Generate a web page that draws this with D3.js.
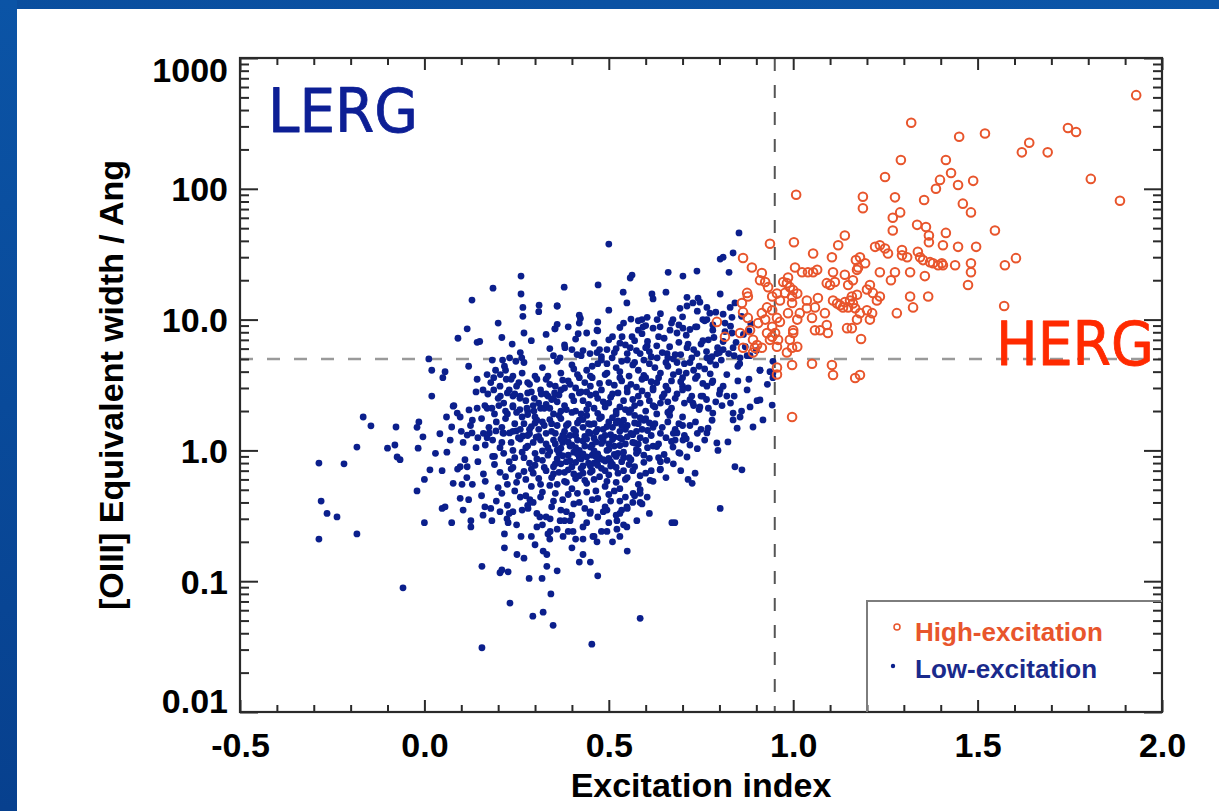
<!DOCTYPE html>
<html>
<head>
<meta charset="utf-8">
<script src="https://cdn.jsdelivr.net/npm/d3@7"></script>
<style>
  html, body { margin: 0; padding: 0; background: #ffffff; }
  svg { display: block; }
</style>
</head>
<body>
<svg id="chart" width="1219" height="811"></svg>
<script>
// ---- axis ticks and labels ----
const xTicks = [-0.5, 0, 0.5, 1, 1.5, 2];
const xTickLabels = ["-0.5", "0.0", "0.5", "1.0", "1.5", "2.0"];
const yTicks = [0.01, 0.1, 1, 10, 100, 1000];
const yTickLabels = ["0.01", "0.1", "1.0", "10.0", "100", "1000"];
const xTitle = "Excitation index";
const yTitle = "[OIII] Equivalent width / Ang";
const legendLabels = ["High-excitation", "Low-excitation"];
const regionLabels = ["LERG", "HERG"];

// dividing lines between the two classes
const eiDivide = 0.95;
const ewDivide = 5;

// ---- high-excitation galaxies: [excitation index, EW [OIII] (Ang)] ----
const highExcitation = [
  [1.93,520],[1.32,320],[1.45,250],[1.52,265],[1.62,190],[1.64,225],[1.69,190],[1.745,292],[1.767,272],[1.807,119],
  [1.886,81],[1.414,166],[1.428,132],[1.398,117],[1.447,107],[1.488,115],[1.46,77],[1.482,66],[1.547,48],[1.414,46],
  [1.406,37],[1.447,36],[1.496,36],[1.406,26],[1.439,26],[1.482,27],[1.482,23],[1.474,18.4],[1.574,26],[1.604,29.5],
  [1.572,12.7],[1.292,166],[1.249,123],[1.387,100],[1.008,90],[1.189,87],[1.189,71],[1.276,86],[1.355,82],[1.29,66],
  [1.27,60],[1.336,53],[1.36,51],[1.368,44],[1.368,39],[1.27,48],[1.14,44],[1.122,37],[1.054,32],[0.937,38],
  [1.002,39],[1.105,30],[1.17,28.5],[1.181,30],[1.195,27],[1.176,25],[1.222,36],[1.235,37],[1.249,35],[1.257,32],
  [1.295,34],[1.309,30],[1.295,31],[1.338,33],[1.344,30],[1.352,28.5],[1.371,27.5],[1.379,27],[1.393,26],[1.403,27],
  [1.317,23],[1.357,21.5],[1.276,23],[1.265,20],[1.235,23],[1.216,16],[1.2,17],[1.208,18.4],[1.227,14],[1.235,15],
  [1.173,24],[1.162,20],[1.149,18.4],[1.108,23],[1.113,19.4],[1.1,18.4],[1.091,19],[1.14,22],[1.065,24],[1.054,23],
  [1.04,23],[1.024,23],[1.005,25],[1.067,14.6],[1.108,14],[1.119,13.3],[1.127,12.9],[1.135,12.4],[1.149,12.4],[1.14,13.6],
  [1.154,14],[1.162,13.3],[1.168,12.2],[1.159,15],[1.173,15.5],[1.181,11.2],[1.2,11.8],[1.214,11.2],[1.281,11.2],[1.317,15],
  [1.325,12.4],[1.366,15],[1.184,7.1],[1.159,8.6],[1.146,8.6],[1.173,10],[1.208,10],[1.086,11.2],[1.091,9.1],[1.094,7.9],
  [1.059,12.4],[1.051,10.3],[1.059,8.3],[1.073,8.3],[1.037,14],[1.037,12.2],[1.018,11.2],[0.997,13.4],[0.986,11.2],[1.011,10],
  [1.0,8.3],[0.983,19],[0.991,17.7],[1.0,16.8],[0.997,15],[0.978,16],[1.011,15.8],[0.973,19.4],[0.986,21],[0.956,15.8],
  [0.964,14],[0.943,15],[0.943,11.8],[0.956,10.3],[0.964,9.6],[0.943,8.8],[0.951,7.9],[0.937,7.0],[0.959,7.0],[0.956,6.2],
  [0.991,7.0],[1.0,7.9],[1.011,6.2],[0.997,6.1],[0.983,5.6],[0.997,4.5],[1.051,4.6],[1.105,4.5],[1.108,3.77],[1.168,3.58],
  [1.181,3.77],[0.956,4.3],[0.956,3.8],[0.997,1.8],[0.864,29.6],[0.888,25],[0.875,16],[0.877,15],[0.861,13.4],[0.864,11.4],
  [0.877,10.3],[0.856,7.9],[0.883,8.3],[0.891,7.0],[0.902,6.4],[0.896,6.1],[0.864,6.1],[0.891,5.6],[0.793,9.6],[0.815,7.4],
  [0.915,22.7],[0.91,20],[0.924,19.4],[0.932,17.7],[0.929,12.4],[0.915,11.2],[0.924,10],[0.905,9.4],[0.929,7.9],[0.943,7.4],
  [0.915,6.1]
];

// ---- low-excitation galaxies: [excitation index, EW [OIII] (Ang)] ----
const lowExcitation = [
  // outskirts
  [0.262,21.5],[0.186,17.4],[0.262,15.7],[0.129,14.1],[0.267,12.4],[0.267,10.6],[0.311,12.9],[0.36,12.7],[0.2,9.4],[0.116,8.5],
  [0.091,7.2],[0.143,6.7],[0.354,8.5],[0.238,6.5],[0.012,5.0],[0.02,4.1],[0.056,4.0],[0.217,4.4],[0.143,3.5],[0.078,2.18],
  [0.089,1.93],[0.097,1.8],[0.121,2.04],[-0.166,1.8],[-0.145,1.54],[-0.077,1.51],[-0.015,1.65],[-0.004,1.27],[0.042,1.34],[0.074,1.51],
  [0.116,1.31],[0.129,1.36],[-0.183,1.06],[-0.1,1.04],[-0.017,1.04],[0.061,0.97],[-0.074,0.89],[-0.066,0.85],[-0.286,0.8],[-0.218,0.79],
  [0.015,0.71],[0.048,0.7],[0.097,0.75],[0.116,0.75],[-0.02,0.49],[0.078,0.56],[0.102,0.55],[-0.28,0.41],[-0.264,0.33],[-0.237,0.31],
  [-0.286,0.21],[-0.183,0.23],[0.0,0.28],[0.048,0.36],[0.056,0.37],[0.097,0.43],[0.105,0.35],[0.074,0.28],[0.126,0.29],[0.126,0.26],
  [-0.058,0.089],[0.156,0.13],[0.205,0.116],[0.21,0.122],[0.227,0.118],[0.217,0.18],[0.251,0.16],[0.217,0.23],[0.262,0.22],[0.284,0.105],
  [0.319,0.105],[0.332,0.16],[0.332,0.13],[0.343,0.08],[0.232,0.068],[0.294,0.054],[0.322,0.058],[0.349,0.046],[0.156,0.031],[0.335,0.23],
  [0.305,0.26],[0.313,0.31],[0.341,0.3],[0.164,0.37],[0.159,0.32],[0.183,0.29],[0.205,0.34],[0.224,0.3],[0.227,0.28],[0.24,0.34],
  [0.281,0.36],[0.286,0.42],[0.454,0.033],[0.585,0.052],
  [0.853,46],[0.5,37.8],[0.837,32.3],[0.81,30],[0.802,29],[0.826,23],[0.563,21.9],[0.558,20.8],[0.661,23],[0.701,21.5],
  [0.739,23.5],[0.379,17.7],[0.471,18.4],[0.539,16.2],[0.549,13.4],[0.617,15.7],[0.62,14.4],[0.655,16.2],[0.712,14.8],[0.742,14.6],
  [0.802,15.7],[0.36,12.7],[0.693,12.2],[0.712,12.7],[0.728,13.4],[0.747,13.6],[0.766,12.4],[0.774,11.2],[0.766,10],[0.834,10.4],
  [0.829,12.4],[0.842,13.4],[0.423,10.2],[0.42,9.4],[0.417,7.8],[0.354,8.5],[0.468,8.3],[0.59,10],[0.604,10.4],[0.593,8.8],
  [0.58,8.3],[0.631,10],[0.639,8.8],[0.674,10],[0.666,8.3],[0.701,8.6],[0.739,8.8],[0.755,10],[0.782,9.1],[0.782,8.3],
  [0.815,9.4],[0.834,7.9],[0.536,7.4],[0.53,6.6],[0.563,7.4],[0.558,6.1],[0.381,6.1],[0.4,5.9],[0.414,5.4],[0.368,5.1],
  [0.449,5.5],[0.468,5.6],[0.495,5.9],[0.509,5.1],[0.585,5.5],[0.604,6.3],[0.631,5.1],[0.658,5.5],[0.685,4.7],[0.712,6.1],
  [0.739,5.5],[0.766,5.1],[0.793,5.5],[0.81,5.9],[0.837,6.1],[0.856,5.1],[0.883,5.3],[0.91,4.1],[0.937,4.0],[0.945,4.8],
  [0.945,3.9],[0.945,3.6],[0.91,2.43],[0.943,2.22],[0.918,1.71],[0.891,1.51],[0.848,1.48],[0.837,1.93],[0.823,1.16],[0.796,1.0],
  [0.793,1.14],[0.842,0.75],[0.861,0.71],[0.802,0.36],[0.671,0.28],[0.679,0.28],[0.726,0.56],[0.734,0.67],[0.769,1.48],[0.766,1.36],
  [0.728,2.3],[0.747,2.15],[0.782,1.93],[0.807,2.2],[0.837,1.71],[0.856,1.8],[0.883,2.15],[0.875,2.9],[0.902,2.4],[0.82,2.6],
  [0.802,2.9],[0.782,3.4],[0.766,3.1],[0.755,2.6],[0.72,2.44],[0.685,1.36],[0.701,1.2],[0.674,1.06],[0.693,0.95],[0.658,0.84],
  [0.712,0.89],[0.639,0.71],[0.612,0.59],[0.585,0.5],[0.566,0.47],[0.604,0.44],[0.549,0.37],[0.585,0.4],[0.576,0.29],[0.53,0.33],
  [0.549,0.26],[0.522,0.25],[0.495,0.24],[0.457,0.22],[0.43,0.21],[0.468,0.2],[0.403,0.24],[0.376,0.22],[0.341,0.24],[0.395,0.29],
  [0.368,0.29],[0.449,0.33],[0.495,0.35],[0.522,0.29],[0.322,0.17],
  // left part of the main cloud
  [0.184,4.9],[0.193,4.1],[0.212,4.9],[0.231,5.1],[0.248,4.8],[0.264,5.1],[0.17,3.8],[0.188,3.6],[0.206,3.8],[0.222,3.5],
  [0.24,3.7],[0.256,3.3],[0.159,2.9],[0.172,2.7],[0.188,2.9],[0.206,2.6],[0.225,2.75],[0.24,2.6],[0.259,2.5],[0.28,2.75],
  [0.298,2.5],[0.317,2.7],[0.335,2.6],[0.353,2.75],[0.143,2.1],[0.164,2.2],[0.183,2.1],[0.202,2.2],[0.22,2.0],[0.24,2.15],
  [0.259,2.05],[0.278,2.1],[0.297,2.0],[0.315,2.1],[0.176,1.36],[0.194,1.41],[0.213,1.36],[0.231,1.36],[0.249,1.41],[0.267,1.29],
  [0.285,1.34],[0.303,1.26],
  // main cloud
  [0.31,11.5],[0.36,9.2],[0.42,10.8],[0.47,9.6],[0.5,11.8],[0.53,8.7],[0.56,10.1],[0.6,9.0],[0.64,11.1],[0.67,9.4],
  [0.7,10.5],[0.72,8.4],[0.76,9.8],[0.79,11.4],[0.83,8.9],[0.86,10.6],[0.88,8.2],
  [0.15,6.8],[0.21,7.3],[0.26,5.6],[0.29,6.9],[0.33,7.7],[0.35,5.3],[0.38,6.4],[0.41,7.1],[0.43,5.8],[0.46,6.6],
  [0.48,5.2],[0.51,7.4],[0.52,6.0],[0.55,5.5],[0.57,6.9],[0.59,7.8],[0.61,5.7],[0.63,6.3],[0.65,7.2],[0.68,5.4],
  [0.69,6.7],[0.71,7.6],[0.73,5.9],[0.75,6.5],[0.77,7.0],[0.8,5.6],[0.81,6.8],[0.84,5.3],[0.87,6.2],[0.9,5.8],
  [0.44,7.9],[0.6,6.1],[0.66,5.1],[0.78,5.2],
  [0.405,4.2],[0.425,5.3],[0.455,4.4],[0.475,5.9],[0.495,4.6],[0.515,5.6],[0.535,4.8],[0.545,6.4],[0.565,4.5],[0.575,5.8],
  [0.595,4.9],[0.605,6.8],[0.615,5.2],[0.625,4.3],[0.635,7.4],[0.645,5.6],[0.655,4.7],[0.665,6.2],[0.675,5.0],[0.685,7.9],
  [0.695,5.4],[0.705,4.6],[0.715,6.5],[0.725,5.1],[0.735,8.8],[0.745,4.4],[0.755,6.9],[0.765,5.7],[0.775,4.8],[0.785,7.3],
  [0.795,6.1],[0.805,4.9],[0.815,8.1],[0.825,5.5],[0.845,6.7],[0.855,4.6],[0.865,7.7],[0.875,5.3],[0.885,9.3],[0.62,8.6],
  [0.58,9.8],[0.69,9.1],[0.74,11.6],[0.81,11.0],[0.54,9.4],[0.5,7.0],[0.47,8.2],[0.39,8.8],[0.34,6.0],[0.27,7.9],
  [0.05,3.6],[0.12,4.4],[0.18,3.3],[0.22,4.1],[0.25,3.1],[0.27,4.7],[0.3,3.7],[0.32,4.3],[0.34,3.2],[0.36,4.8],
  [0.37,3.9],[0.39,3.4],[0.4,4.5],[0.42,3.6],[0.44,4.1],[0.45,3.1],[0.47,4.6],[0.49,3.8],[0.5,3.3],[0.52,4.3],
  [0.53,3.6],[0.55,4.9],[0.56,3.2],[0.58,4.1],[0.59,3.5],[0.61,4.6],[0.62,3.0],[0.64,3.9],[0.66,4.4],[0.67,3.4],
  [0.69,4.0],[0.7,3.1],[0.72,4.7],[0.74,3.7],[0.76,4.2],[0.78,3.3],[0.79,4.5],[0.82,3.8],[0.85,4.4],[0.88,3.5],
  [0.91,4.1],[0.93,3.2],[0.48,4.9],[0.57,4.7],[0.63,3.3],[0.71,3.9],[0.41,3.0],[0.53,4.0],
  [0.205,3.1],[0.215,2.3],[0.235,3.5],[0.245,2.7],[0.265,3.9],[0.275,2.4],[0.285,3.2],[0.295,2.2],[0.305,3.5],[0.315,2.9],
  [0.325,2.1],[0.335,3.7],[0.345,2.45],[0.355,3.1],[0.365,2.65],[0.375,3.45],[0.385,2.05],[0.395,3.2],[0.405,2.4],[0.415,3.8],
  [0.425,2.8],[0.435,3.3],[0.445,2.25],[0.455,3.6],[0.465,2.7],[0.475,3.25],[0.485,2.35],[0.495,3.9],[0.505,2.55],[0.515,3.15],
  [0.525,2.75],[0.535,3.4],[0.545,2.05],[0.555,3.7],[0.565,2.45],[0.575,3.05],[0.585,2.3],[0.595,3.75],[0.605,2.65],[0.615,3.35],
  [0.625,2.15],[0.635,3.6],[0.645,2.55],[0.655,3.1],[0.665,2.0],[0.675,3.8],[0.685,2.7],[0.695,3.35],[0.705,2.3],[0.715,3.0],
  [0.725,2.6],[0.735,3.55],[0.745,2.05],[0.755,3.25],[0.765,2.45],[0.775,3.85],[0.79,2.35],[0.81,3.1],[0.84,2.6],[0.85,3.4],
  [0.02,2.6],[0.08,2.2],[0.14,2.8],[0.17,2.1],[0.2,2.5],[0.23,2.9],[0.24,2.2],[0.26,2.6],[0.28,2.0],[0.29,2.8],
  [0.31,2.3],[0.33,2.7],[0.34,2.1],[0.35,2.5],[0.37,2.9],[0.38,2.2],[0.4,2.6],[0.41,2.0],[0.43,2.4],[0.44,2.8],
  [0.46,2.1],[0.47,2.5],[0.48,2.9],[0.5,2.3],[0.51,2.7],[0.52,2.0],[0.54,2.4],[0.55,2.8],[0.57,2.2],[0.58,2.6],
  [0.6,2.0],[0.61,2.4],[0.62,2.9],[0.64,2.3],[0.65,2.7],[0.67,2.1],[0.68,2.5],[0.7,2.9],[0.73,2.2],[0.75,2.6],
  [0.77,2.1],[0.8,2.7],[0.83,2.3],[0.86,2.0],[0.36,2.35],[0.45,2.65],[0.53,2.15],[0.59,2.85],[0.66,2.35],[0.42,2.75],
  [-0.02,1.5],[0.06,1.8],[0.1,1.4],[0.13,1.7],[0.16,1.35],[0.19,1.9],[0.21,1.5],[0.22,1.75],[0.24,1.4],[0.25,1.95],
  [0.27,1.6],[0.28,1.3],[0.3,1.8],[0.31,1.45],[0.32,1.65],[0.33,1.35],[0.35,1.9],[0.36,1.55],[0.37,1.75],[0.38,1.4],
  [0.39,1.6],[0.4,1.95],[0.41,1.3],[0.42,1.7],[0.43,1.5],[0.44,1.85],[0.45,1.35],[0.46,1.6],[0.47,1.45],[0.48,1.8],
  [0.49,1.3],[0.5,1.65],[0.51,1.5],[0.52,1.9],[0.53,1.4],[0.54,1.7],[0.55,1.55],[0.56,1.35],[0.57,1.85],[0.58,1.6],
  [0.59,1.45],[0.6,1.75],[0.62,1.5],[0.63,1.9],[0.64,1.35],[0.66,1.65],[0.68,1.45],[0.7,1.8],[0.72,1.55],[0.74,1.35],
  [0.78,1.7],[0.34,1.72],[0.45,1.58],[0.51,1.78],[0.29,1.52],[0.47,1.92],
  [0.105,1.15],[0.125,1.55],[0.145,1.25],[0.155,1.75],[0.165,1.1],[0.175,1.5],[0.185,1.2],[0.195,1.65],[0.205,1.05],[0.215,1.35],
  [0.225,1.9],[0.235,1.15],[0.245,1.6],[0.255,1.25],[0.265,1.8],[0.275,1.05],[0.285,1.45],[0.295,1.15],[0.305,1.7],[0.315,1.2],
  [0.325,1.55],[0.335,1.05],[0.345,1.4],[0.355,1.12],[0.365,1.85],[0.375,1.3],[0.385,1.55],[0.395,1.08],[0.405,1.45],[0.415,1.2],
  [0.425,1.9],[0.435,1.28],[0.445,1.6],[0.455,1.1],[0.465,1.38],[0.475,1.75],[0.485,1.18],[0.495,1.52],[0.505,1.32],[0.515,1.08],
  [0.525,1.68],[0.535,1.22],[0.545,1.45],[0.555,1.95],[0.565,1.15],[0.575,1.4],[0.585,1.25],[0.595,1.7],[0.605,1.05],[0.615,1.3],
  [0.625,1.6],[0.635,1.12],[0.645,1.5],[0.655,1.25],[0.665,1.85],[0.675,1.35],[0.69,1.6],[0.705,1.3],[0.72,1.1],[0.735,1.65],
  [0.75,1.45],[0.76,1.2],
  [0.365,0.95],[0.375,1.15],[0.385,0.82],[0.395,1.3],[0.405,0.97],[0.415,1.62],[0.425,0.86],[0.435,1.08],[0.445,1.38],[0.455,0.92],
  [0.465,1.16],[0.475,0.88],[0.485,1.45],[0.495,1.0],[0.505,0.82],[0.515,1.26],[0.525,0.95],[0.535,1.55],[0.545,1.12],[0.555,0.78],
  [0.565,1.32],[0.575,1.02],[0.585,1.78],[0.595,0.92],[0.605,1.42],[0.4,0.75],[0.43,0.67],[0.46,0.8],[0.49,0.7],[0.52,0.74],
  [0.38,0.68],[0.355,1.35],[0.345,1.6],[0.37,2.0],[0.44,2.05],[0.49,2.15],[0.56,2.05],[0.62,2.2],[0.66,1.95],[0.33,2.25],
  [0.3,1.62],[0.26,1.45],[0.28,1.88],[0.32,0.99],[0.29,0.72],[0.35,0.75],[0.62,1.08],[0.64,0.82],[0.68,1.2],[0.7,1.55],
  [0.66,2.9],[0.7,3.6],[0.73,4.1],[0.6,3.6],[0.55,3.0],[0.45,3.7],[0.38,3.0],[0.33,3.5],[0.28,3.3],[0.5,1.12],
  [0.41,1.4],[0.48,1.25],[0.54,0.88],[0.58,1.12],[0.45,0.76],[0.43,1.72],[0.37,1.22],[0.52,1.62],[0.57,1.62],[0.61,1.62],
  [-0.08,1.1],[0.03,0.95],[0.07,1.2],[0.11,0.85],[0.14,1.05],[0.17,1.25],[0.19,0.9],[0.21,1.15],[0.23,0.82],[0.24,1.0],
  [0.26,1.22],[0.27,0.88],[0.28,1.08],[0.3,0.95],[0.31,1.28],[0.32,0.84],[0.33,1.12],[0.34,0.98],[0.35,1.2],[0.36,0.86],
  [0.37,1.04],[0.38,1.26],[0.39,0.92],[0.4,1.1],[0.41,0.81],[0.42,1.0],[0.43,1.18],[0.44,0.89],[0.45,1.06],[0.46,1.24],
  [0.47,0.94],[0.48,1.13],[0.49,0.83],[0.5,1.02],[0.51,1.21],[0.52,0.9],[0.53,1.09],[0.54,0.97],[0.55,1.27],[0.56,0.85],
  [0.57,1.14],[0.58,0.99],[0.6,1.19],[0.61,0.87],[0.63,1.07],[0.65,0.93],[0.67,1.17],[0.69,0.96],[0.71,1.23],[0.74,1.03],
  [0.39,1.16],[0.44,1.22],[0.47,0.84],[0.36,1.01],[0.42,0.88],[0.5,0.87],[0.53,1.25],[0.41,1.05],[0.46,0.99],[0.43,0.94],
  [0.0,0.6],[0.09,0.72],[0.13,0.55],[0.16,0.66],[0.19,0.78],[0.2,0.52],[0.22,0.63],[0.24,0.74],[0.25,0.57],[0.27,0.69],
  [0.29,0.53],[0.3,0.77],[0.31,0.61],[0.33,0.7],[0.34,0.54],[0.35,0.66],[0.37,0.79],[0.38,0.58],[0.39,0.71],[0.4,0.51],
  [0.42,0.64],[0.43,0.76],[0.44,0.56],[0.45,0.68],[0.46,0.6],[0.48,0.73],[0.49,0.53],[0.5,0.65],[0.51,0.78],[0.52,0.57],
  [0.54,0.7],[0.55,0.62],[0.57,0.75],[0.58,0.55],[0.6,0.67],[0.62,0.58],[0.64,0.72],[0.41,0.61],[0.47,0.77],[0.36,0.55],
  [0.53,0.51],
  [0.115,0.62],[0.145,0.82],[0.165,0.58],[0.185,0.9],[0.205,0.68],[0.215,0.95],[0.225,0.55],[0.235,0.72],[0.245,0.88],[0.255,0.64],
  [0.265,0.97],[0.275,0.6],[0.285,0.8],[0.295,0.67],[0.305,0.86],[0.315,0.55],[0.325,0.74],[0.335,0.92],[0.345,0.62],[0.355,0.79],
  [0.365,0.68],[0.375,0.91],[0.385,0.57],[0.395,0.83],[0.405,0.66],[0.415,0.94],[0.425,0.73],[0.435,0.59],[0.445,0.8],[0.455,0.7],
  [0.465,0.9],[0.475,0.63],[0.485,0.85],[0.495,0.58],[0.505,0.76],[0.515,0.93],[0.525,0.67],[0.535,0.82],[0.545,0.6],[0.555,0.88],
  [0.565,0.7],[0.575,0.95],[0.585,0.64],[0.595,0.81],[0.615,0.7],[0.635,0.88],[0.655,0.62],[0.675,0.79],[0.695,0.7],[0.715,0.6],
  [0.12,0.42],[0.18,0.36],[0.21,0.47],[0.23,0.33],[0.26,0.44],[0.28,0.38],[0.32,0.48],[0.33,0.31],[0.35,0.41],[0.37,0.35],
  [0.39,0.46],[0.4,0.32],[0.42,0.4],[0.44,0.48],[0.45,0.34],[0.47,0.43],[0.49,0.37],[0.5,0.46],[0.52,0.32],[0.53,0.41],
  [0.55,0.36],[0.57,0.45],[0.59,0.39],[0.61,0.33],[0.47,0.31],
  [0.155,0.45],[0.195,0.41],[0.225,0.38],[0.245,0.49],[0.265,0.35],[0.275,0.45],[0.295,0.4],[0.305,0.33],[0.315,0.44],[0.345,0.37],
  [0.355,0.47],[0.375,0.42],[0.385,0.34],[0.405,0.39],[0.415,0.47],[0.435,0.36],[0.455,0.42],[0.465,0.49],[0.485,0.34],[0.505,0.41],
  [0.515,0.49],[0.535,0.35],[0.545,0.44],[0.565,0.4],[0.585,0.47],[0.32,0.27],[0.34,0.21],[0.39,0.24],[0.43,0.26],[0.46,0.22],
  [0.5,0.28],[0.53,0.22],[0.3,0.19],[0.42,0.14],
  [0.25,0.27],[0.29,0.22],[0.36,0.25],[0.41,0.21],[0.44,0.28],[0.48,0.24],[0.51,0.2],[0.54,0.27],[0.38,0.29],
  [0.27,0.15],[0.36,0.12],[0.4,0.18],[0.45,0.14],[0.47,0.11],[0.55,0.17],[0.43,0.16]
];

// ---- page layout ----
const W = 1219, H = 811;
const plot = { left: 240, right: 1162, top: 58, bottom: 712 };

const svg = d3.select("#chart");

// blue presentation frame
const defs = svg.append("defs");
const gl = defs.append("linearGradient").attr("id", "sideBand")
  .attr("x1", 0).attr("y1", 0).attr("x2", 0).attr("y2", 1);
gl.append("stop").attr("offset", "0%").attr("stop-color", "#0b54a6");
gl.append("stop").attr("offset", "100%").attr("stop-color", "#07408e");
const gt = defs.append("linearGradient").attr("id", "topBand")
  .attr("x1", 0).attr("y1", 0).attr("x2", 1).attr("y2", 0);
gt.append("stop").attr("offset", "0%").attr("stop-color", "#0a4e9e");
gt.append("stop").attr("offset", "100%").attr("stop-color", "#0c56a8");
defs.append("clipPath").attr("id", "plotClip").append("rect")
  .attr("x", plot.left).attr("y", plot.top)
  .attr("width", plot.right - plot.left).attr("height", plot.bottom - plot.top);

svg.append("rect").attr("x", 0).attr("y", 0).attr("width", W).attr("height", H).attr("fill", "#ffffff");
svg.append("rect").attr("x", 0).attr("y", 0).attr("width", W).attr("height", 9).attr("fill", "url(#topBand)");
svg.append("rect").attr("x", 0).attr("y", 0).attr("width", 17).attr("height", H).attr("fill", "url(#sideBand)");

// ---- scales ----
const x = d3.scaleLinear().domain([-0.5, 2.0]).range([plot.left, plot.right]);
const y = d3.scaleLog().domain([0.01, 1000]).range([plot.bottom, plot.top]);

const axisColor = "#2a2a2a";
const labelFont = "'Liberation Sans', Arial, Helvetica, sans-serif";

// minor tick positions
const xMinor = x.ticks(25).filter(v => !xTicks.some(t => Math.abs(t - v) < 1e-9));
const yMinor = y.ticks().filter(v => !yTicks.some(t => Math.abs(t - v) < 1e-12));

function styleAxis(g) {
  g.select(".domain").remove();
  g.selectAll(".tick line").attr("stroke", axisColor).attr("stroke-width", 2);
}

// ---- dividing lines ----
svg.append("line")
  .attr("x1", x(-0.5)).attr("x2", x(2.0)).attr("y1", y(ewDivide)).attr("y2", y(ewDivide))
  .attr("stroke", "#9a9a9a").attr("stroke-width", 2.5).attr("stroke-dasharray", "13,14");
svg.append("line")
  .attr("x1", x(eiDivide)).attr("x2", x(eiDivide)).attr("y1", y(1000)).attr("y2", y(0.01))
  .attr("stroke", "#555555").attr("stroke-width", 2).attr("stroke-dasharray", "13,14");

// ---- data points ----
const pts = svg.append("g").attr("clip-path", "url(#plotClip)");
pts.append("g").selectAll("circle").data(lowExcitation).join("circle")
  .attr("cx", d => x(d[0])).attr("cy", d => y(d[1])).attr("r", 3.4)
  .attr("fill", "#0b1f8c");
pts.append("g").selectAll("circle").data(highExcitation).join("circle")
  .attr("cx", d => x(d[0])).attr("cy", d => y(d[1])).attr("r", 4.3)
  .attr("fill", "none").attr("stroke", "#e8552c").attr("stroke-width", 2);

// bottom axis with labels
const gxB = svg.append("g").attr("transform", `translate(0,${plot.bottom})`)
  .call(d3.axisBottom(x).tickValues(xTicks).tickSizeInner(-12).tickSizeOuter(0).tickPadding(20)
    .tickFormat((d, i) => xTickLabels[i]));
styleAxis(gxB);
gxB.selectAll(".tick text")
  .attr("fill", "#000").attr("font-family", labelFont).attr("font-weight", "bold")
  .attr("font-size", 34).attr("dy", 0).attr("y", 45);
svg.append("g").attr("transform", `translate(0,${plot.bottom})`)
  .call(d3.axisBottom(x).tickValues(xMinor).tickSizeInner(-7).tickSizeOuter(0).tickFormat(""))
  .call(styleAxis);

// top axis, ticks only
svg.append("g").attr("transform", `translate(0,${plot.top})`)
  .call(d3.axisTop(x).tickValues(xTicks).tickSizeInner(-12).tickSizeOuter(0).tickFormat(""))
  .call(styleAxis);
svg.append("g").attr("transform", `translate(0,${plot.top})`)
  .call(d3.axisTop(x).tickValues(xMinor).tickSizeInner(-7).tickSizeOuter(0).tickFormat(""))
  .call(styleAxis);

// left axis with labels
const gyL = svg.append("g").attr("transform", `translate(${plot.left},0)`)
  .call(d3.axisLeft(y).tickValues(yTicks).tickSizeInner(-18).tickSizeOuter(0).tickPadding(12)
    .tickFormat((d, i) => yTickLabels[i]));
styleAxis(gyL);
gyL.selectAll(".tick text")
  .attr("fill", "#000").attr("font-family", labelFont).attr("font-weight", "bold")
  .attr("font-size", 34).attr("dy", "0.35em")
  .attr("y", d => d === 1000 ? 12 : (d === 0.01 ? -11 : 0));
svg.append("g").attr("transform", `translate(${plot.left},0)`)
  .call(d3.axisLeft(y).tickValues(yMinor).tickSizeInner(-9).tickSizeOuter(0).tickFormat(""))
  .call(styleAxis);

// right axis, ticks only
svg.append("g").attr("transform", `translate(${plot.right},0)`)
  .call(d3.axisRight(y).tickValues(yTicks).tickSizeInner(-18).tickSizeOuter(0).tickFormat(""))
  .call(styleAxis);
svg.append("g").attr("transform", `translate(${plot.right},0)`)
  .call(d3.axisRight(y).tickValues(yMinor).tickSizeInner(-9).tickSizeOuter(0).tickFormat(""))
  .call(styleAxis);

// plot frame
svg.append("rect")
  .attr("x", plot.left).attr("y", plot.top)
  .attr("width", plot.right - plot.left).attr("height", plot.bottom - plot.top)
  .attr("fill", "none").attr("stroke", axisColor).attr("stroke-width", 2.2);

// ---- legend ----
const lg = svg.append("g");
lg.append("path")
  .attr("d", `M867,${plot.bottom} L867,601 L${plot.right},601`)
  .attr("fill", "none").attr("stroke", "#7d7d7d").attr("stroke-width", 2);
lg.append("circle").attr("cx", 897).attr("cy", 627).attr("r", 3)
  .attr("fill", "none").attr("stroke", "#e8552c").attr("stroke-width", 1.5);
lg.append("circle").attr("cx", 893).attr("cy", 666).attr("r", 2.2).attr("fill", "#0b1f8c");
lg.append("text").attr("x", 915).attr("y", 641).text(legendLabels[0])
  .attr("font-family", labelFont).attr("font-weight", "bold").attr("font-size", 26).attr("fill", "#e8552c");
lg.append("text").attr("x", 915).attr("y", 678).text(legendLabels[1])
  .attr("font-family", labelFont).attr("font-weight", "bold").attr("font-size", 26).attr("fill", "#1a2a8c");

// ---- axis titles ----
svg.append("text").attr("x", (plot.left + plot.right) / 2).attr("y", 797)
  .attr("text-anchor", "middle").text(xTitle)
  .attr("font-family", labelFont).attr("font-weight", "bold").attr("font-size", 34).attr("fill", "#000");
svg.append("text").attr("transform", `translate(123,${(plot.top + plot.bottom) / 2}) rotate(-90)`)
  .attr("text-anchor", "middle").text(yTitle)
  .attr("font-family", labelFont).attr("font-weight", "bold").attr("font-size", 34).attr("fill", "#000");

// ---- class labels ----
svg.append("text").attr("x", 268).attr("y", 132).text(regionLabels[0])
  .attr("textLength", 150).attr("lengthAdjust", "spacingAndGlyphs")
  .attr("font-family", "'DejaVu Sans', sans-serif").attr("font-size", 60)
  .attr("fill", "#0d1f95").attr("stroke", "#0d1f95").attr("stroke-width", 0.8).attr("stroke-linejoin", "round");
svg.append("text").attr("x", 996).attr("y", 365).text(regionLabels[1])
  .attr("textLength", 158).attr("lengthAdjust", "spacingAndGlyphs")
  .attr("font-family", "'DejaVu Sans', sans-serif").attr("font-size", 60)
  .attr("fill", "#ff2a00").attr("stroke", "#ff2a00").attr("stroke-width", 0.8).attr("stroke-linejoin", "round");
</script>
</body>
</html>
